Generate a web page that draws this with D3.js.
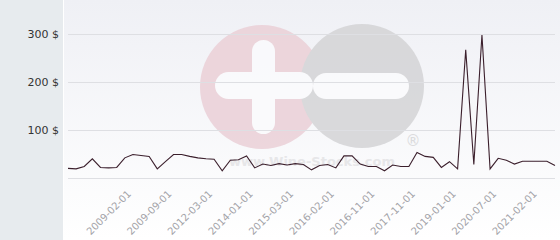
<!DOCTYPE html>
<html>
<head>
<meta charset="utf-8">
<script src="https://cdn.jsdelivr.net/npm/d3@7"></script>
<style>
  body { margin: 0; background: #fff; }
  svg { display: block; }
</style>
</head>
<body>
<script>
// price per auction (one value per sale)
var prices = [20, 19, 24, 40, 22, 21, 22, 42, 49, 47,
              45, 19, 34, 49, 49, 45, 42, 40, 39, 15,
              37, 38, 46, 21, 29, 26, 30, 27, 30, 28,
              17, 26, 28, 21, 46, 46, 29, 24, 24, 15,
              27, 24, 24, 53, 45, 43, 22, 34, 19, 267,
              28, 298, 19, 41, 37, 29, 35, 35, 35, 35, 26];

// only every 5th sale gets a date label
var tickIndex = [7, 12, 17, 22, 27, 32, 37, 42, 47, 52, 57];
var tickLabels = ["2009-02-01", "2009-09-01", "2012-03-01", "2014-01-01",
                  "2015-03-01", "2016-02-01", "2016-11-01", "2017-11-01",
                  "2019-01-01", "2020-07-01", "2021-02-01"];
var yTicks = [100, 200, 300];

var w = 560;
var h = 240;
// plot edges (note: "top" is reserved on window, so prefix them)
var plotLeft = 68, plotRight = 555, plotTop = 34, plotBottom = 178;

var svg = d3.select("body")
            .append("svg")
            .attr("width", w)
            .attr("height", h);

// background gradient for the plot panel
var defs = svg.append("defs");
var grad = defs.append("linearGradient")
               .attr("id", "bg")
               .attr("x1", 0).attr("y1", 0)
               .attr("x2", 0).attr("y2", 1);
grad.append("stop").attr("offset", "0%").attr("stop-color", "#eff0f5");
grad.append("stop").attr("offset", "100%").attr("stop-color", "#ffffff");

svg.append("rect")
   .attr("x", 0).attr("y", 0)
   .attr("width", w).attr("height", h)
   .attr("fill", "url(#bg)");

// grey side panel behind the y labels
svg.append("rect")
   .attr("x", 0).attr("y", 0)
   .attr("width", 63).attr("height", h)
   .attr("fill", "#e7ebee");
svg.append("rect")
   .attr("x", 63).attr("y", 0)
   .attr("width", 1).attr("height", h)
   .attr("fill", "#ffffff");

var xScale = d3.scaleLinear()
               .domain([0, prices.length - 1])
               .range([plotLeft, plotRight]);

var yScale = d3.scaleLinear()
               .domain([0, 300])
               .range([plotBottom, plotTop]);

// watermark logo
var logo = svg.append("g").attr("opacity", 0.85);
logo.append("circle")
    .attr("cx", 262).attr("cy", 87).attr("r", 62)
    .attr("fill", "#ebd0d7");
logo.append("circle")
    .attr("cx", 362).attr("cy", 86).attr("r", 62)
    .attr("fill", "#d4d4d6");
// plus
logo.append("rect")
    .attr("x", 252).attr("y", 40).attr("width", 23).attr("height", 94)
    .attr("rx", 11.5).attr("fill", "#fbfbfd");
logo.append("rect")
    .attr("x", 215).attr("y", 72).attr("width", 98).attr("height", 27)
    .attr("rx", 13.5).attr("fill", "#fbfbfd");
// minus
logo.append("rect")
    .attr("x", 313).attr("y", 73).attr("width", 96).attr("height", 26)
    .attr("rx", 13).attr("fill", "#fbfbfd");
logo.append("text")
    .attr("x", 312).attr("y", 166)
    .attr("text-anchor", "middle")
    .style("font-family", "'DejaVu Sans', sans-serif")
    .style("font-size", "13px")
    .style("font-weight", "bold")
    .attr("fill", "#e4e4e6")
    .text("www.Wine-Stocks.com");
logo.append("text")
    .attr("x", 413).attr("y", 146)
    .attr("text-anchor", "middle")
    .style("font-family", "'DejaVu Sans', sans-serif")
    .style("font-size", "15px")
    .attr("fill", "#d6d6d8")
    .text("®");

// horizontal grid lines
svg.append("g")
   .selectAll("line")
   .data([0].concat(yTicks))
   .enter()
   .append("line")
   .attr("x1", plotLeft).attr("x2", plotRight)
   .attr("y1", d => yScale(d)).attr("y2", d => yScale(d))
   .attr("stroke", "#dedfe3")
   .attr("stroke-width", 1)
   .attr("shape-rendering", "crispEdges");

// y axis labels
var yAxis = d3.axisLeft(yScale)
              .tickValues(yTicks)
              .tickSize(0)
              .tickPadding(0)
              .tickFormat(d => d + " $");
var gy = svg.append("g")
            .attr("transform", "translate(59,0)")
            .call(yAxis);
gy.select(".domain").remove();
gy.selectAll("text")
  .style("font-family", "'DejaVu Sans', sans-serif")
  .style("font-size", "11px")
  .attr("fill", "#333");

// x axis date labels, rotated
var xAxis = d3.axisBottom(xScale)
              .tickValues(tickIndex)
              .tickSize(0)
              .tickFormat((d, i) => tickLabels[i]);
var gx = svg.append("g")
            .attr("transform", "translate(0," + plotBottom + ")")
            .call(xAxis);
gx.select(".domain").remove();
gx.selectAll("text")
  .attr("x", 0).attr("y", 0).attr("dy", "0.35em")
  .attr("transform", "translate(4,14) rotate(-45)")
  .style("text-anchor", "end")
  .style("font-family", "'DejaVu Sans', sans-serif")
  .style("font-size", "10px")
  .attr("fill", "#a3a3a8");

// the price line
var line = d3.line()
             .x((d, i) => xScale(i))
             .y(d => yScale(d));

svg.append("path")
   .datum(prices)
   .attr("d", line)
   .attr("fill", "none")
   .attr("stroke", "#3b1f2c")
   .attr("stroke-width", 1.1);
</script>
</body>
</html>
